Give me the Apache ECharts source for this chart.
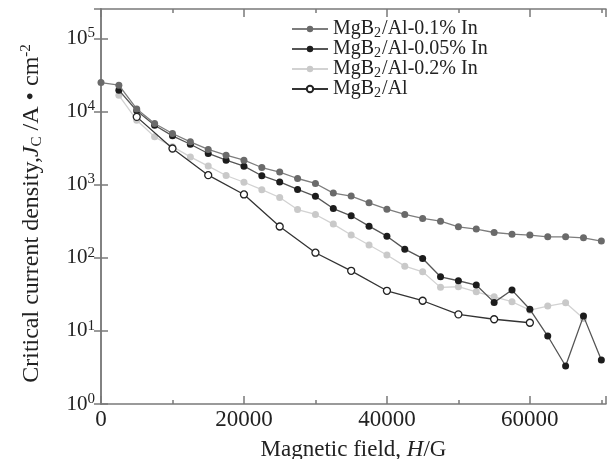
<!DOCTYPE html>
<html>
<head>
<meta charset="utf-8">
<script src="https://cdn.jsdelivr.net/npm/echarts@6/dist/echarts.min.js"></script>
<style>html,body{margin:0;padding:0;background:#fff}#c{width:613px;height:459px}</style>
</head>
<body>
<div id="c"></div>
<script>
const seriesNames = ['MgB2/Al-0.1% In', 'MgB2/Al-0.05% In', 'MgB2/Al-0.2% In', 'MgB2/Al'];

const field01 = [0, 2500, 5000, 7500, 10000, 12500, 15000, 17500, 20000, 22500, 25000, 27500, 30000, 32500, 35000, 37500, 40000, 42500, 45000, 47500, 50000, 52500, 55000, 57500, 60000, 62500, 65000, 67500, 70000];
const jc01 = [24800, 22800, 10800, 6840, 4990, 3840, 3020, 2520, 2155, 1710, 1480, 1210, 1035, 765, 695, 562, 461, 390, 344, 316, 264, 246, 221, 210, 204, 193, 193, 187, 169];

const field005 = [2500, 5000, 7500, 10000, 12500, 15000, 17500, 20000, 22500, 25000, 27500, 30000, 32500, 35000, 37500, 40000, 42500, 45000, 47500, 50000, 52500, 55000, 57500, 60000, 62500, 65000, 67500, 70000];
const jc005 = [19500, 10200, 6480, 4630, 3560, 2660, 2155, 1783, 1320, 1088, 857, 690, 470, 374, 270, 197, 131, 97.7, 54.8, 48.4, 42.3, 24.5, 36.1, 19.7, 8.5, 3.31, 15.9, 3.99];

const field02 = [2500, 5000, 7500, 10000, 12500, 15000, 17500, 20000, 22500, 25000, 27500, 30000, 32500, 35000, 37500, 40000, 42500, 45000, 47500, 50000, 52500, 55000, 57500, 60000, 62500, 65000, 67500];
const jc02 = [16600, 7580, 4490, 3300, 2390, 1790, 1330, 1075, 850, 665, 455, 390, 288, 204, 149, 109, 76.7, 64.2, 39.3, 40.1, 34.2, 29.2, 25.0, 19.2, 21.8, 24.2, 14.8];

const field0 = [5000, 10000, 15000, 20000, 25000, 30000, 35000, 40000, 45000, 50000, 55000, 60000];
const jc0 = [8420, 3110, 1344, 732, 267, 117, 66.2, 35.3, 25.8, 16.8, 14.4, 12.9];

const xTickLabels = ['0', '20000', '40000', '60000'];

function pairs(xs, ys) { return xs.map((x, i) => [x, ys[i]]); }

const FONT = 'Liberation Serif';
const axisLineStyle = { color: '#7a7a7a', width: 1.5 };

const styles = [
  { line: '#7d7d7d', fill: '#6a6a6a', border: '#6a6a6a' },
  { line: '#555555', fill: '#1c1c1c', border: '#1c1c1c' },
  { line: '#d2d2d2', fill: '#c9c9c9', border: '#c9c9c9' },
  { line: '#333333', fill: '#ffffff', border: '#222222' }
];
const datasets = [pairs(field01, jc01), pairs(field005, jc005), pairs(field02, jc02), pairs(field0, jc0)];

const chart = echarts.init(document.getElementById('c'), null, { renderer: 'canvas' });

const xBase = {
  type: 'value', min: 0, max: 70650, interval: 20000,
  axisLine: { lineStyle: axisLineStyle },
  axisTick: { inside: true, length: 8, lineStyle: axisLineStyle },
  minorTick: { show: true, splitNumber: 2, length: 4, lineStyle: axisLineStyle },
  splitLine: { show: false }, minorSplitLine: { show: false }
};
const yBase = {
  type: 'log', logBase: 10, min: 1, max: 251189,
  axisLine: { lineStyle: axisLineStyle },
  axisTick: { inside: true, length: 7, lineStyle: axisLineStyle },
  splitLine: { show: false }
};

chart.setOption({
  animation: false,
  backgroundColor: '#ffffff',
  grid: { left: 101, right: 7, top: 9, bottom: 55, containLabel: false, outerBoundsMode: 'none' },
  legend: {
    orient: 'vertical', left: 286, top: 13,
    itemWidth: 36, itemHeight: 8, itemGap: -2,
    data: seriesNames,
    textStyle: {
      fontFamily: FONT, fontSize: 20, color: '#222', lineHeight: 20,
      rich: { sub: { fontFamily: FONT, fontSize: 14, color: '#222', lineHeight: 20, padding: [8, 1, 0, 0] } }
    },
    formatter: n => n.replace('MgB2', 'MgB{sub|2}')
  },
  xAxis: [
    Object.assign({}, xBase, {
      position: 'bottom',
      name: 'Magnetic field, {i|H}/G', nameLocation: 'middle', nameGap: 34,
      nameTextStyle: { fontFamily: FONT, fontSize: 23, color: '#222', verticalAlign: 'top',
        rich: { i: { fontFamily: FONT, fontStyle: 'italic', fontSize: 23, color: '#222' } } },
      axisLabel: { fontFamily: FONT, fontSize: 23, color: '#222', margin: 4, showMaxLabel: false,
        formatter: v => xTickLabels.indexOf(String(v)) >= 0 ? String(v) : '' }
    }),
    Object.assign({}, xBase, { position: 'top', axisLabel: { show: false } })
  ],
  yAxis: [
    Object.assign({}, yBase, {
      position: 'left',
      name: 'Critical current density,{i|J}{sub|C} /A • cm{sup|-2}', nameLocation: 'middle', nameGap: 56,
      nameTextStyle: { fontFamily: FONT, fontSize: 24, color: '#222', padding: [0, 14, 0, 0],
        rich: {
          i: { fontFamily: FONT, fontStyle: 'italic', fontSize: 24, color: '#222' },
          sub: { fontFamily: FONT, fontSize: 15, color: '#222', padding: [10, 0, 0, 0] },
          sup: { fontFamily: FONT, fontSize: 15, color: '#222', padding: [0, 0, 11, 0] }
        } },
      axisLabel: { fontFamily: FONT, fontSize: 21, color: '#222', margin: 6, showMaxLabel: false,
        formatter: v => '10{sup|' + Math.round(Math.log10(v)) + '}',
        rich: { sup: { fontFamily: FONT, fontSize: 15, color: '#222', padding: [0, 0, 10, 0] } } }
    }),
    Object.assign({}, yBase, { position: 'right', axisLabel: { show: false } })
  ],
  series: datasets.map((d, i) => ({
    name: seriesNames[i], type: 'line', data: d, xAxisIndex: 0, yAxisIndex: 0,
    symbol: 'circle', symbolSize: 7, showSymbol: true,
    lineStyle: { color: styles[i].line, width: 1.3 },
    itemStyle: { color: styles[i].fill, borderColor: styles[i].border, borderWidth: i === 3 ? 1.3 : 0 },
    z: i === 2 ? 1 : (i === 3 ? 4 : 3 - i + 1)
  }))
});
</script>
</body>
</html>
